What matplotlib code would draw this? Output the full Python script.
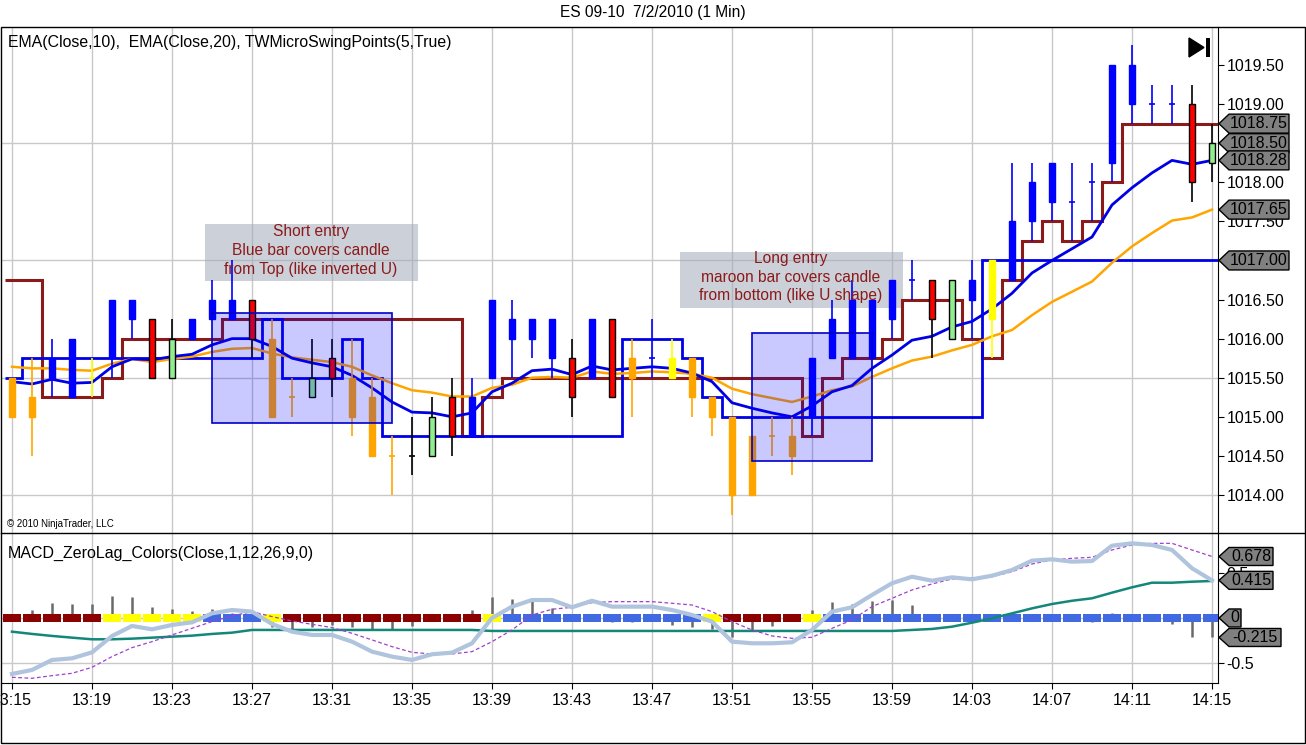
import numpy as np
import matplotlib.pyplot as plt
from matplotlib.patches import Rectangle, Polygon
from matplotlib.lines import Line2D
from matplotlib.transforms import blended_transform_factory

plt.rcParams['font.family'] = ['Liberation Sans', 'DejaVu Sans']

# ---- data (one bar per minute, 13:15 .. 14:15) ----
TIME_LABELS = ['13:15', '13:19', '13:23', '13:27', '13:31', '13:35', '13:39', '13:43',
               '13:47', '13:51', '13:55', '13:59', '14:03', '14:07', '14:11', '14:15']

# candle colour codes: b blue, o orange, r red, g green, y yellow, k black
BAR_COLOR = ['o', 'o', 'b', 'b', 'y', 'b', 'b', 'r', 'g', 'b', 'b', 'b', 'r', 'o', 'o', 'g',
             'r', 'o', 'o', 'o', 'k', 'g', 'r', 'b', 'b', 'b', 'b', 'b', 'r', 'b', 'r', 'o',
             'b', 'y', 'o', 'o', 'o', 'o', 'o', 'o', 'b', 'b', 'b', 'b', 'b', 'b', 'r', 'g',
             'b', 'y', 'b', 'b', 'b', 'b', 'b', 'b', 'b', 'b', 'b', 'r', 'g']
OPEN = [1015.5, 1015.25, 1015.5, 1015.25, 1015.5, 1015.75, 1016.25, 1016.25, 1015.5, 1016.0,
        1016.25, 1016.25, 1016.5, 1016.0, 1015.25, 1015.25, 1015.75, 1015.5, 1015.25, 1014.5,
        1014.5, 1014.5, 1015.25, 1014.75, 1015.5, 1016.0, 1016.0, 1015.75, 1015.75, 1015.5,
        1016.25, 1015.75, 1015.75, 1015.75, 1015.75, 1015.25, 1015.0, 1014.75, 1014.75, 1014.75,
        1015.0, 1015.75, 1015.75, 1015.75, 1016.25, 1016.75, 1016.75, 1016.0, 1016.5, 1017.0,
        1016.75, 1017.5, 1017.75, 1017.75, 1018.0, 1018.25, 1019.0, 1019.0, 1019.0, 1019.0,
        1018.25]
HIGH = [1015.5, 1015.75, 1016.0, 1016.0, 1015.75, 1016.5, 1016.5, 1016.25, 1016.25, 1016.25,
        1016.75, 1017.0, 1016.5, 1016.25, 1015.5, 1016.0, 1016.0, 1016.0, 1015.5, 1014.75,
        1015.0, 1015.25, 1015.5, 1015.5, 1016.5, 1016.5, 1016.25, 1016.25, 1016.0, 1016.25,
        1016.25, 1016.0, 1016.25, 1016.0, 1015.75, 1015.25, 1015.0, 1014.75, 1015.0, 1015.0,
        1015.75, 1016.5, 1016.75, 1016.5, 1016.75, 1017.0, 1016.75, 1016.75, 1017.0, 1017.0,
        1018.25, 1018.25, 1018.25, 1018.25, 1018.25, 1019.5, 1019.75, 1019.25, 1019.25, 1019.25,
        1018.75]
LOW = [1015.0, 1014.5, 1015.25, 1015.25, 1015.25, 1015.5, 1016.0, 1015.5, 1015.5, 1016.0,
       1016.25, 1016.25, 1015.75, 1015.0, 1015.0, 1015.25, 1015.25, 1014.75, 1014.5, 1014.0,
       1014.25, 1014.5, 1014.5, 1014.75, 1015.5, 1015.5, 1015.75, 1015.5, 1015.0, 1015.5,
       1015.25, 1015.0, 1015.5, 1015.5, 1015.0, 1014.75, 1013.75, 1014.0, 1014.5, 1014.25,
       1014.75, 1015.75, 1015.75, 1015.75, 1016.0, 1016.5, 1015.75, 1016.0, 1016.0, 1015.75,
       1016.75, 1017.25, 1017.5, 1017.25, 1017.5, 1018.0, 1018.75, 1018.75, 1018.75, 1017.75,
       1018.0]
CLOSE = [1015.0, 1015.0, 1015.75, 1016.0, 1015.5, 1016.5, 1016.5, 1015.5, 1016.0, 1016.25,
         1016.5, 1016.5, 1016.0, 1015.0, 1015.25, 1015.5, 1015.5, 1015.0, 1014.5, 1014.5,
         1014.5, 1015.0, 1014.75, 1015.25, 1016.5, 1016.25, 1016.25, 1016.25, 1015.25, 1016.25,
         1015.25, 1015.5, 1015.75, 1015.5, 1015.25, 1015.0, 1014.0, 1014.0, 1014.75, 1014.5,
         1015.75, 1016.25, 1016.5, 1016.5, 1016.75, 1016.75, 1016.25, 1016.75, 1016.75, 1016.25,
         1017.5, 1018.0, 1018.25, 1017.75, 1018.0, 1019.5, 1019.5, 1019.0, 1019.0, 1018.0,
         1018.5]

EMA10 = [1015.45, 1015.42, 1015.48, 1015.43, 1015.44, 1015.64, 1015.74, 1015.73, 1015.77,
         1015.80, 1015.92, 1016.00, 1016.00, 1015.90, 1015.75, 1015.69, 1015.64, 1015.53,
         1015.37, 1015.19, 1015.06, 1015.05, 1015.00, 1015.05, 1015.32, 1015.43, 1015.59,
         1015.61, 1015.54, 1015.65, 1015.60, 1015.62, 1015.64, 1015.62, 1015.56, 1015.45,
         1015.18, 1015.11, 1015.05, 1015.00, 1015.14, 1015.32, 1015.40, 1015.62, 1015.79,
         1015.98, 1016.03, 1016.15, 1016.22, 1016.38, 1016.58, 1016.84, 1017.00, 1017.15,
         1017.30, 1017.71, 1017.93, 1018.12, 1018.28, 1018.23, 1018.28]
EMA20 = [1015.64, 1015.62, 1015.62, 1015.60, 1015.59, 1015.68, 1015.74, 1015.70, 1015.74,
         1015.77, 1015.83, 1015.87, 1015.88, 1015.81, 1015.76, 1015.73, 1015.70, 1015.64,
         1015.53, 1015.43, 1015.34, 1015.31, 1015.26, 1015.26, 1015.37, 1015.41, 1015.50,
         1015.51, 1015.50, 1015.58, 1015.55, 1015.56, 1015.58, 1015.57, 1015.55, 1015.50,
         1015.36, 1015.29, 1015.24, 1015.19, 1015.26, 1015.34, 1015.39, 1015.51, 1015.62,
         1015.72, 1015.77, 1015.85, 1015.92, 1016.03, 1016.11, 1016.30, 1016.47, 1016.60,
         1016.73, 1016.97, 1017.18, 1017.35, 1017.51, 1017.55, 1017.65]

# swing point step lines (value held for each bar)
SWING_LOW = ([1016.75] * 2 + [1015.25] * 3 + [1015.5] + [1016.0] * 5 + [1016.25] * 12 +
             [1014.75, 1015.25] + [1015.5] * 15 + [1014.75, 1015.5, 1015.75, 1015.75, 1016.0] +
             [1016.5] * 3 + [1016.0, 1015.75, 1016.75, 1017.25, 1017.5, 1017.25, 1017.5, 1018.0] +
             [1018.75] * 5)
SWING_HIGH = ([1015.5] + [1015.75] * 12 + [1016.25] + [1015.5] * 3 + [1016.0, 1015.5] +
              [1014.75] * 12 + [1016.0] * 3 + [1015.75, 1015.25] + [1015.0] * 13 + [1017.0] * 12)

GRID_PRICES = [1014.0, 1015.5, 1017.0, 1018.5]

# MACD panel
MACD = [-0.617, -0.573, -0.463, -0.445, -0.379, -0.199, -0.088, -0.125, -0.077, -0.048, 0.051,
        0.088, 0.07, -0.066, -0.151, -0.187, -0.187, -0.261, -0.371, -0.426, -0.463, -0.40,
        -0.382, -0.279, 0.0, 0.125, 0.198, 0.198, 0.118, 0.19, 0.125, 0.125, 0.125, 0.088, 0.033,
        -0.04, -0.261, -0.279, -0.279, -0.268, -0.132, 0.07, 0.118, 0.254, 0.383, 0.455, 0.411,
        0.448, 0.426, 0.466, 0.529, 0.632, 0.647, 0.621, 0.628, 0.797, 0.823, 0.805, 0.75, 0.548,
        0.415]
SIGNAL = [-0.654, -0.665, -0.636, -0.61, -0.544, -0.426, -0.327, -0.261, -0.187, -0.114, -0.04,
          0.022, 0.07, 0.015, -0.033, -0.07, -0.106, -0.169, -0.242, -0.316, -0.379, -0.397,
          -0.397, -0.371, -0.261, -0.132, 0.033, 0.096, 0.118, 0.169, 0.18, 0.18, 0.18, 0.162,
          0.143, 0.07, -0.04, -0.132, -0.198, -0.224, -0.213, -0.114, -0.022, 0.125, 0.217, 0.309,
          0.375, 0.43, 0.444, 0.455, 0.51, 0.595, 0.64, 0.658, 0.669, 0.75, 0.805, 0.823, 0.823,
          0.75, 0.678]
AVG = ([-0.151, -0.176, -0.198, -0.217, -0.235, -0.235, -0.228, -0.217, -0.206, -0.195, -0.176,
        -0.162, -0.132] + [-0.132] * 11 + [-0.143] * 21 +
       [-0.132, -0.121, -0.096, -0.052, -0.004, 0.051, 0.106, 0.154, 0.19, 0.217, 0.279, 0.338,
        0.389, 0.389, 0.40, 0.408])
HIST = [0.0, 0.088, 0.17, 0.155, 0.155, 0.24, 0.235, 0.118, 0.095, 0.08, 0.095, 0.06, 0.04,
        -0.095, -0.13, -0.095, -0.077, -0.095, -0.13, -0.125, -0.088, 0.0, 0.0, 0.088, 0.235,
        0.21, 0.19, 0.11, 0.02, 0.0, -0.048, -0.048, 0.0, -0.073, -0.095, -0.125, -0.205, -0.13,
        -0.085, -0.03, 0.088, 0.18, 0.155, 0.19, 0.2, 0.143, 0.044, 0.0, 0.0, 0.0, 0.0, 0.03, 0.0,
        0.0, -0.048, 0.05, 0.0, 0.0, -0.07, -0.205, -0.215]
ZERO_COLOR = (['r'] * 5 + ['y'] * 5 + ['b'] * 3 + ['y'] + ['r'] * 10 + ['y'] + ['b'] * 10 +
              ['y'] + ['r'] * 4 + ['y'] + ['b'] * 20)

# ---- styling ----
W, H = 1306, 745
GRID = '#C8C8C8'
BODY = {'b': '#0000FF', 'o': '#FFA500', 'r': '#FF0000', 'g': '#90EE90', 'y': '#FFFF00', 'k': '#000000'}
WICK = {'b': '#0000FF', 'o': '#FFA500', 'r': '#000000', 'g': '#000000', 'y': '#FFFF00', 'k': '#000000'}
ZCOL = {'r': '#8B0000', 'y': '#FFFF00', 'b': '#4169E1'}
NOTE_COLOR = '#8B1A1A'


def fx(px):
    return px / W


def fy(py):
    return 1 - py / H


def price_tag(axis, value, label, width, height=19):
    '''grey arrow-shaped value marker on the right-hand scale'''
    lo, hi = axis.get_ylim()
    ppu = axis.get_position().height * H / (hi - lo)
    hh = height / 2 / ppu
    tr = blended_transform_factory(fig.transFigure, axis.transData)
    x0, x1, x2 = fx(1219), fx(1229), fx(1219 + width)
    poly = Polygon([(x0, value), (x1, value + hh), (x2, value + hh), (x2, value - hh), (x1, value - hh)],
                   closed=True, transform=tr, facecolor='#808080', edgecolor='black', lw=1,
                   clip_on=False, zorder=20)
    axis.add_artist(poly)
    axis.text((x1 + x2) / 2, value, label, transform=tr, ha='center', va='center',
              fontsize=11.5, color='black', clip_on=False, zorder=21)


fig = plt.figure(figsize=(W / 100, H / 100), dpi=100)
ax = fig.add_axes([fx(1), fy(533), fx(1218) - fx(1), fy(27) - fy(533)])
ax2 = fig.add_axes([fx(1), fy(683), fx(1218) - fx(1), fy(533) - fy(683)])

x = np.arange(len(CLOSE))
edges = np.arange(len(CLOSE) + 1) - 0.5
edges[0] = -0.35
XLIM = (-0.55, 60.3)

# ---- price panel ----
ax.set_xlim(XLIM)
ax.set_ylim(1013.514, 1019.986)
for i in range(0, len(x), 4):
    ax.axvline(i, color=GRID, lw=1, zorder=0)
for p in GRID_PRICES:
    ax.axhline(p, color=GRID, lw=1, zorder=0)

# note boxes
ax.add_patch(Rectangle((9.65, 1016.737), 10.65, 0.729, facecolor='#A3ABBA', alpha=0.55,
                       edgecolor='none', zorder=1))
ax.add_patch(Rectangle((33.4, 1016.392), 11.15, 0.716, facecolor='#A3ABBA', alpha=0.55,
                       edgecolor='none', zorder=1))

ax.stairs(SWING_LOW, edges, baseline=None, color='#8B1A1A', lw=2.2, zorder=3)
ax.stairs(SWING_HIGH, edges, baseline=None, color='#0000E6', lw=2.0, zorder=3)
ax.plot(x, EMA20, color='#FFA500', lw=1.8, zorder=4)
ax.plot(x, EMA10, color='#0000E6', lw=2.0, zorder=4)

# candles
bw = 0.3
for i in x:
    c = BAR_COLOR[i]
    ax.vlines(i, LOW[i], HIGH[i], color=WICK[c], lw=1.2, zorder=5)
    lo, hi = min(OPEN[i], CLOSE[i]), max(OPEN[i], CLOSE[i])
    if hi - lo < 1e-9:
        ax.hlines(OPEN[i], i - bw / 2, i + bw / 2, color=WICK[c] if c != 'b' else BODY[c], lw=1.2, zorder=5)
    else:
        edge = 'black' if c in 'rg' else BODY[c]
        ax.add_patch(Rectangle((i - bw / 2, lo), bw, hi - lo, facecolor=BODY[c], edgecolor=edge,
                               lw=1.0, zorder=6))

# entry boxes
ax.add_patch(Rectangle((10, 1014.92), 9, 1.41, facecolor=(0, 0, 1, 0.21), edgecolor='#0000CC',
                       lw=1.2, zorder=7))
ax.add_patch(Rectangle((37, 1014.43), 6, 1.64, facecolor=(0, 0, 1, 0.21), edgecolor='#0000CC',
                       lw=1.2, zorder=7))

for k, line in enumerate(['Short entry', 'Blue bar covers candle', 'from Top (like inverted U)']):
    ax.text(14.95, 1017.364 - k * 0.237, line, ha='center', va='center', fontsize=11.2,
            color=NOTE_COLOR, zorder=8)
for k, line in enumerate(['Long entry', 'maroon bar covers candle', 'from bottom (like U shape)']):
    ax.text(38.95, 1017.02 - k * 0.237, line, ha='center', va='center', fontsize=11.2,
            color=NOTE_COLOR, zorder=8)

ax.set_yticks(np.arange(1014.0, 1019.51, 0.5))
ax.set_yticklabels(['%.2f' % v for v in np.arange(1014.0, 1019.51, 0.5)])
ax.yaxis.tick_right()
ax.tick_params(axis='y', direction='out', length=4, labelsize=11.5, pad=2, colors='black')
ax.set_xticks([])
for s in ['top', 'left', 'bottom']:
    ax.spines[s].set_visible(False)
ax.spines['right'].set_color('black')

price_tag(ax, SWING_LOW[-1], '%.2f' % SWING_LOW[-1], 70)
price_tag(ax, CLOSE[-1], '%.2f' % CLOSE[-1], 70)
price_tag(ax, EMA10[-1], '%.2f' % EMA10[-1], 70)
price_tag(ax, EMA20[-1], '%.2f' % EMA20[-1], 70)
price_tag(ax, SWING_HIGH[-1], '%.2f' % SWING_HIGH[-1], 70)

# ---- MACD panel ----
ax2.set_xlim(XLIM)
ax2.set_ylim(-0.717, 0.937)
for i in range(0, len(x), 4):
    ax2.axvline(i, color=GRID, lw=1, zorder=0)
ax2.axhline(-0.5, color=GRID, lw=1, zorder=0)
ax2.axhline(0.0, color=GRID, lw=1, zorder=0)

ax2.vlines(x, 0, HIST, color='#696969', lw=1.8, zorder=2)
ax2.bar(x, 0.078, bottom=-0.039, width=0.9, color=[ZCOL[c] for c in ZERO_COLOR], zorder=3)
ax2.plot(x, AVG, color='#13877A', lw=1.8, zorder=4)
ax2.plot(x, SIGNAL, color='#A040D0', lw=0.9, ls=(0, (3, 2)), zorder=4)
ax2.plot(x, MACD, color='#B0C4DE', lw=3.0, zorder=5)

ax2.set_yticks([-0.5, 0, 0.5])
ax2.set_yticklabels(['-0.5', '0', '0.5'])
ax2.yaxis.tick_right()
ax2.tick_params(axis='y', direction='out', length=4, labelsize=11.5, pad=2)
ax2.set_xticks(range(0, len(x), 4))
ax2.set_xticklabels(TIME_LABELS)
ax2.tick_params(axis='x', direction='out', length=4, labelsize=11.5, pad=3)
for s in ['top', 'left']:
    ax2.spines[s].set_visible(False)

price_tag(ax2, SIGNAL[-1], '%.3f' % SIGNAL[-1], 54, 18)
price_tag(ax2, MACD[-1], '%.3f' % MACD[-1], 54, 18)
price_tag(ax2, 0.0, '0', 22, 18)
price_tag(ax2, HIST[-1], '%.3f' % HIST[-1], 62, 18)

# ---- frame, titles and labels ----
fig.add_artist(Rectangle((fx(1), fy(743)), fx(1305) - fx(1), fy(27) - fy(743),
                         transform=fig.transFigure, fill=False, edgecolor='black', lw=1))
fig.add_artist(Line2D([fx(1), fx(1305)], [fy(533), fy(533)], transform=fig.transFigure,
                      color='black', lw=1))
fig.add_artist(Polygon([(fx(1189), fy(38)), (fx(1189), fy(57)), (fx(1204), fy(47.5))],
                       closed=True, transform=fig.transFigure, facecolor='black', edgecolor='black'))
fig.add_artist(Rectangle((fx(1206), fy(57)), fx(4), fy(38) - fy(57), transform=fig.transFigure,
                         facecolor='black', edgecolor='none'))

fig.text(fx(653), fy(13), 'ES 09-10  7/2/2010 (1 Min)', ha='center', va='center', fontsize=11.2)
fig.text(fx(8), fy(42), 'EMA(Close,10),  EMA(Close,20), TWMicroSwingPoints(5,True)',
         ha='left', va='center', fontsize=11.4)
fig.text(fx(7), fy(524), '\u00a9 2010 NinjaTrader, LLC', ha='left', va='center', fontsize=7)
fig.text(fx(8), fy(553), 'MACD_ZeroLag_Colors(Close,1,12,26,9,0)', ha='left', va='center',
         fontsize=11.5)

fig.savefig('out.png', dpi=100)
